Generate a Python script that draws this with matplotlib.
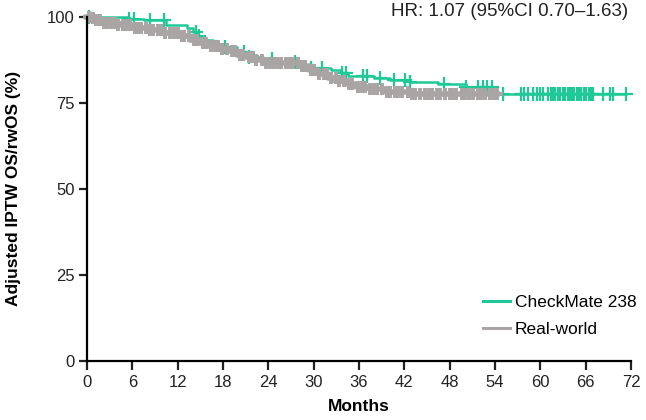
import numpy as np
import matplotlib
matplotlib.use('Agg')
import matplotlib.pyplot as plt

plt.rcParams['font.family'] = ['Liberation Sans', 'DejaVu Sans']

# CheckMate 238 (green): KM step times (months) and survival (%)
cm_times = [0, 5.5, 7.6, 10.5, 13.2, 14.0, 14.7, 15.5, 16.7, 18.1, 19.9, 21.3,
            23.3, 24.9, 28.1, 29.3, 32.3, 33.6, 34.6, 38.0, 40.1, 42.8, 46.4,
            50.1, 54.1, 71.4]
cm_surv = [100, 99.4, 98.9, 97.7, 96.6, 95.5, 94.3, 93.2, 92.0, 91.2, 89.8, 88.3,
           87.6, 86.7, 85.8, 85.2, 84.6, 83.7, 82.8, 82.2, 81.6, 81.0, 80.3,
           79.6, 77.6, 77.6]
cm_censor = [0.2, 5.5, 6.2, 8.3, 10.2, 14.4, 14.8, 18.3, 20.8, 21.4, 24.5, 27.5,
             29.6, 31.1, 33.8, 34.3, 36.5, 37.1, 38.8, 40.6, 42.1, 42.8, 47.2,
             50.1, 51.8, 52.4, 53.0, 53.6, 55.0, 57.4, 57.9, 58.4, 59.0, 59.6,
             60.0, 60.4, 61.0, 61.4, 61.7, 62.0, 62.3, 62.6, 63.0, 63.3, 63.6,
             63.9, 64.2, 64.5, 64.8, 65.1, 65.4, 65.8, 66.1, 66.4, 66.7, 67.0,
             68.3, 69.2, 69.6, 71.4]

# Real-world (gray)
rw_times = [0, 0.4, 1.0, 1.8, 3.9, 6.0, 8.1, 10.2, 12.3, 13.6, 14.7, 16.0,
            17.4, 18.6, 19.9, 21.0, 22.2, 23.4, 28.3, 29.4, 30.6, 31.9, 33.0,
            34.4, 35.6, 37.5, 39.6, 42.8, 54.3]
rw_surv = [100, 99.5, 99.0, 98.3, 97.7, 96.8, 96.0, 95.2, 94.3, 93.3, 92.3, 91.4,
           90.6, 89.9, 89.0, 88.2, 87.4, 86.6, 85.7, 84.5, 83.3, 82.2, 81.2,
           80.3, 79.6, 78.9, 78.2, 77.5, 77.5]
rw_censor = [0.3, 0.8, 1.2, 1.7, 2.3, 2.6, 3.2, 3.7, 4.1, 4.8, 5.2, 5.7, 6.3,
             6.7, 7.2, 7.8, 8.3, 8.7, 9.4, 9.8, 10.3, 11.0, 11.5, 12.0, 12.6,
             12.9, 13.5, 14.2, 14.6, 15.3, 15.7, 16.4, 17.0, 17.3, 17.9, 18.5,
             19.2, 19.6, 20.3, 20.7, 21.5, 22.0, 22.4, 23.1, 23.7, 24.2, 24.8,
             25.3, 25.7, 26.4, 26.8, 27.3, 27.9, 28.4, 28.9, 29.6, 30.1, 30.7,
             31.4, 31.8, 32.3, 32.9, 33.4, 34.0, 34.7, 35.1, 35.8, 36.4, 36.8,
             37.5, 38.0, 38.4, 39.1, 39.7, 40.1, 40.8, 41.2, 41.7, 42.5, 43.0,
             43.4, 44.1, 44.7, 45.2, 45.6, 46.3, 46.7, 47.4, 48.0, 48.3, 48.9,
             49.6, 50.0, 50.5, 51.1, 51.8, 52.2, 52.7, 53.3, 53.8, 54.3]

x_ticks = [0, 6, 12, 18, 24, 30, 36, 42, 48, 54, 60, 66, 72]
y_ticks = [0, 25, 50, 75, 100]

green = '#1ec997'
gray = '#a9a5a5'


def surv_at(times, surv, t):
    idx = np.searchsorted(times, t, side='right') - 1
    return np.asarray(surv)[idx]


fig = plt.figure(figsize=(6.46, 4.2), dpi=100)
ax = fig.add_axes([0.1347, 0.1412, 0.8421, 0.819])

ax.plot(rw_times, rw_surv, drawstyle='steps-post', color=gray, lw=4,
        label='Real-world', zorder=2, clip_on=False)
ax.plot(rw_censor, surv_at(rw_times, rw_surv, rw_censor), '+', color=gray,
        ms=9, mew=2.8, zorder=2, clip_on=False)
ax.plot(cm_times, cm_surv, drawstyle='steps-post', color=green, lw=1.8,
        label='CheckMate 238', zorder=1, clip_on=False)
ax.plot(cm_censor, surv_at(cm_times, cm_surv, cm_censor), '+', color=green,
        ms=10, mew=1.6, zorder=1, clip_on=False)

ax.set_xlim(0, 72)
ax.set_ylim(0, 100)
ax.set_xticks(x_ticks)
ax.set_yticks(y_ticks)
ax.spines['top'].set_visible(False)
ax.spines['right'].set_visible(False)
ax.spines['left'].set_linewidth(1.6)
ax.spines['bottom'].set_linewidth(1.6)
ax.tick_params(axis='x', direction='out', length=6.5, width=1.6, labelsize=12,
               colors='#222222', pad=4)
ax.tick_params(axis='y', direction='out', length=6, width=1.6, labelsize=12,
               colors='#222222', pad=3)
ax.set_xlabel('Months', fontsize=12.5, fontweight='bold', labelpad=6)
ax.set_ylabel('Adjusted IPTW OS/rwOS (%)', fontsize=12.5, fontweight='bold')
ax.yaxis.set_label_coords(-0.121, 0.5)

handles, labels = ax.get_legend_handles_labels()
leg = ax.legend(handles[::-1], labels[::-1], loc='upper left', frameon=False,
                fontsize=12.5, handlelength=1.55, handletextpad=0.3,
                borderpad=0, borderaxespad=0, labelspacing=0.65,
                bbox_to_anchor=(483 / 646, 1 - 295 / 420),
                bbox_transform=fig.transFigure)
for h in leg.get_lines():
    h.set_linewidth(2.2)

fig.text(628 / 646, 1 - 11.5 / 420, 'HR: 1.07 (95%CI 0.70\u20131.63)', ha='right',
         va='center', fontsize=13.5, color='#222222')

fig.savefig('out.png', dpi=100)
